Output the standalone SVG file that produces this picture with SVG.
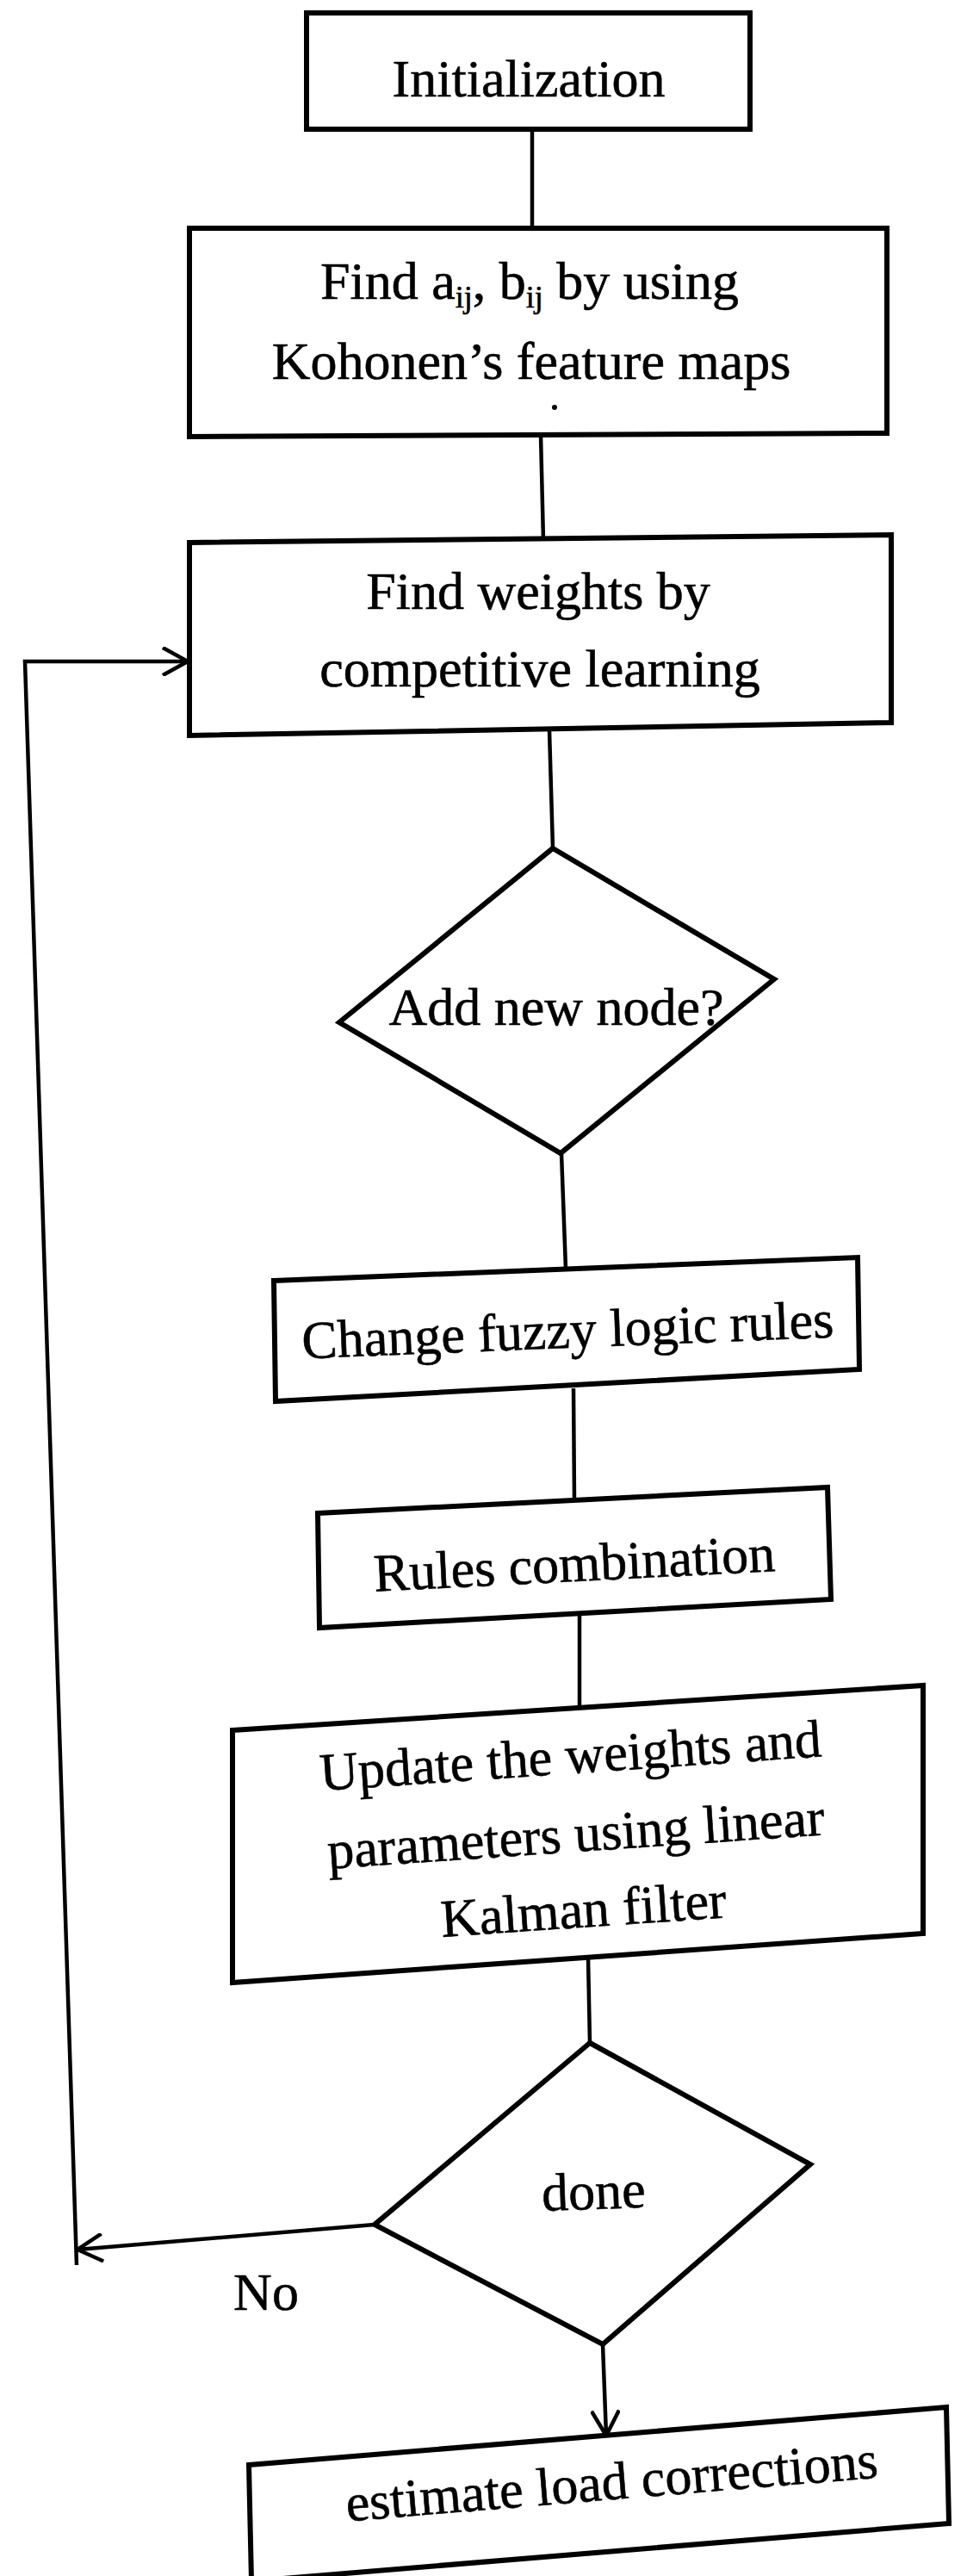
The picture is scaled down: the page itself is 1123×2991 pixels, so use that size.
<svg xmlns="http://www.w3.org/2000/svg" width="1123" height="2991" viewBox="0 0 1123 2991">
  <style>
    .box { fill: #ffffff; stroke: #000000; stroke-width: 6; stroke-linejoin: miter; }
    .lbl { font-family: "Liberation Serif", "Times New Roman", serif; font-size: 62px; fill: #000000; text-anchor: middle; stroke: #000000; stroke-width: 0.6; }
    .sub { font-size: 36px; }
    .conn { fill: none; stroke: #000000; stroke-width: 4.5; }
  </style>
  <defs>
    <marker id="chevron" viewBox="0 0 32 34" refX="30" refY="17" markerWidth="32" markerHeight="34" markerUnits="userSpaceOnUse" orient="auto">
      <path d="M1,1 L30,17 L1,33" fill="none" stroke="#000000" stroke-width="4.5"/>
    </marker>
  </defs>
  <rect width="1123" height="2991" fill="#ffffff"/>

  <!-- connectors -->
  <g id="connectors">
    <line class="conn" x1="618" y1="150" x2="618" y2="265"/>
    <line class="conn" x1="628" y1="505" x2="631" y2="628"/>
    <line class="conn" x1="638" y1="848" x2="642" y2="985"/>
    <line class="conn" x1="652" y1="1339" x2="657" y2="1473"/>
    <line class="conn" x1="666" y1="1612" x2="667" y2="1742"/>
    <line class="conn" x1="673" y1="1873" x2="673" y2="1983"/>
    <line class="conn" x1="683" y1="2273" x2="685" y2="2372"/>
    <line class="conn" x1="700" y1="2722" x2="704" y2="2828" marker-end="url(#chevron)"/>
    <line class="conn" x1="435" y1="2583" x2="90" y2="2612" marker-end="url(#chevron)"/>
    <polyline class="conn" points="89,2630 29,768 218,768" marker-end="url(#chevron)"/>
  </g>

  <g id="init">
    <rect class="box" x="356" y="15" width="515" height="135"/>
    <text class="lbl" x="614" y="112">Initialization</text>
  </g>

  <g id="kohonen">
    <polygon class="box" points="220,265 1030,265 1030,503 220,507"/>
    <text class="lbl" x="615" y="347">Find a<tspan class="sub" dy="10">ij</tspan><tspan dy="-10">, b</tspan><tspan class="sub" dy="10">ij</tspan><tspan dy="-10"> by using</tspan></text>
    <text class="lbl" x="617" y="440">Kohonen’s feature maps</text>
    <circle cx="644" cy="473" r="3" fill="#000000"/>
  </g>

  <g id="competitive">
    <polygon class="box" points="220,630 1035,621 1035,839 220,854"/>
    <text class="lbl" x="625" y="707">Find weights by</text>
    <text class="lbl" x="627" y="797">competitive learning</text>
  </g>

  <g id="add-node">
    <polygon class="box" points="642,985 899,1137 651,1339 394,1187"/>
    <text class="lbl" x="646" y="1190" font-size="60">Add new node?</text>
  </g>

  <g id="fuzzy-rules">
    <polygon class="box" points="318,1487 996,1460 998,1590 320,1627"/>
    <text class="lbl" x="660" y="1565" transform="rotate(-2.3 660 1565)">Change fuzzy logic rules</text>
  </g>

  <g id="rules-combination">
    <polygon class="box" points="369,1757 961,1727 965,1857 371,1890"/>
    <text class="lbl" x="668" y="1836" transform="rotate(-2.9 668 1836)">Rules combination</text>
  </g>

  <g id="kalman-update">
    <polygon class="box" points="270,2009 1072,1957 1072,2245 270,2302"/>
    <g transform="rotate(-3.9 670 2150)">
      <text class="lbl" x="670" y="2059">Update the weights and</text>
      <text class="lbl" x="670" y="2150">parameters using linear</text>
      <text class="lbl" x="673" y="2238">Kalman filter</text>
    </g>
  </g>

  <g id="done">
    <polygon class="box" points="685,2372 941,2513 700,2722 435,2583"/>
    <text class="lbl" x="690" y="2565" font-size="60" transform="rotate(-2 690 2565)">done</text>
  </g>

  <g id="no-label">
    <text class="lbl" x="309" y="2682" font-size="58">No</text>
  </g>

  <g id="estimate">
    <polygon class="box" points="289,2862 1099,2795 1102,2930 292,2997"/>
    <text class="lbl" x="712" y="2902" font-size="60" transform="rotate(-4.7 712 2902)">estimate load corrections</text>
  </g>
</svg>
